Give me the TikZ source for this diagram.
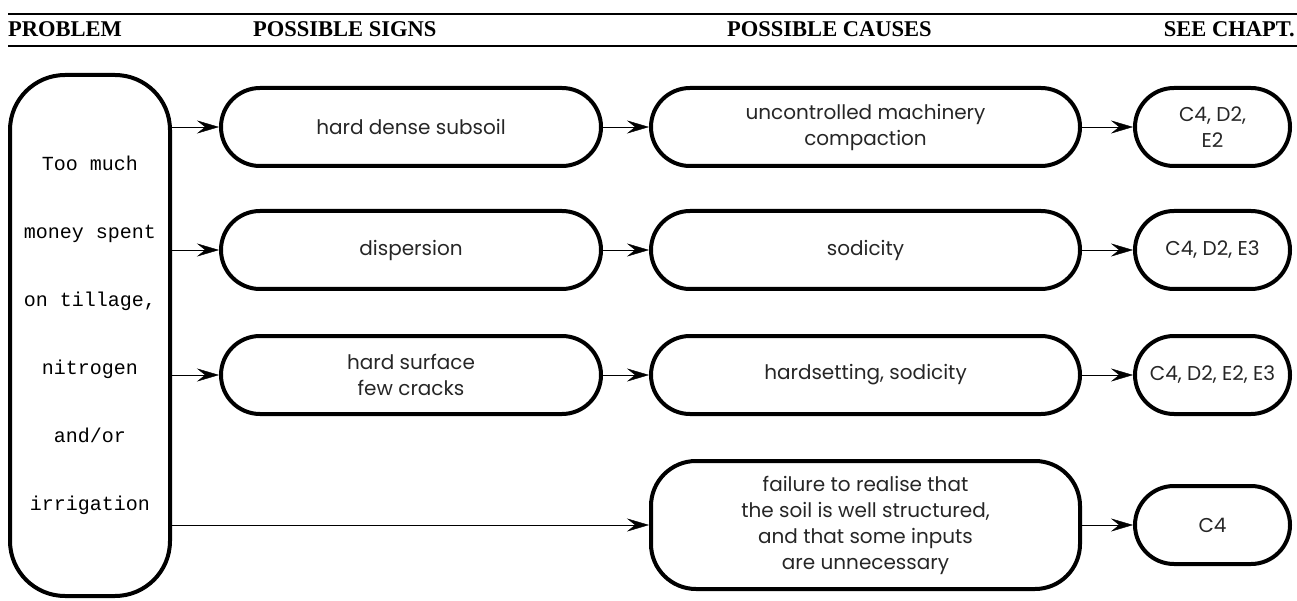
\documentclass[tikz,border=0pt]{standalone}
\usepackage{fontspec}
\usetikzlibrary{positioning, arrows.meta}
\newfontfamily\signfont{Poppins}
\newfontfamily\probfont{Liberation Mono}
\newfontfamily\headfont{Liberation Serif}
\tikzset{
	>={Stealth[length=22pt,width=13pt,inset=8pt]},
	->,
	x=1pt, y=-1pt,
	line width=2pt,
	box/.style={draw, -, line width=4pt, inner sep=0pt, align=center, text=black!85,
		font=\signfont\fontsize{20}{26}\selectfont},
	sign/.style={box, rounded corners=39pt, minimum width=380pt, minimum height=78pt},
	cause/.style={box, rounded corners=39pt, minimum width=429pt, minimum height=78pt},
	chapt/.style={box, rounded corners=39pt, minimum width=155pt, minimum height=78pt},
	head/.style={anchor=base west, inner sep=0pt, font=\headfont\bfseries\fontsize{22.5}{26}\selectfont}}

\begin{document}
\begin{tikzpicture}
		\useasboundingbox (0,0) rectangle (1297,601);

		% header
		\draw[-, line width=2.5pt] (8,14) -- (1297,14);
		\draw[-, line width=2.5pt] (8,46) -- (1297,46);
		\node[head] (hp) at (8,37) {PROBLEM};
		\node[head] (hs) at (253,37) {POSSIBLE SIGNS};
		\node[head] (hc) at (727,37) {POSSIBLE CAUSES};
		\node[head, anchor=base east] (hh) at (1295,37) {SEE CHAPT.};

		\node[box, rounded corners=55pt, minimum width=160pt, minimum height=521pt,
			font=\probfont\fontsize{20}{68}\selectfont, text=black] (prob) at (90,335.5)
			{Too much\\money spent\\on tillage,\\nitrogen\\and/or\\irrigation};

		\node[sign] (s1) at (411,127) {hard dense subsoil};
		\node[sign] (s2) at (411,250) {dispersion};
		\node[sign] (s3) at (411,375) {hard surface\\few cracks};

		\node[cause] (c1) at (865.5,127) {uncontrolled machinery\\compaction};
		\node[cause] (c2) at (865.5,250) {sodicity};
		\node[cause] (c3) at (865.5,375) {hardsetting, sodicity};
		\node[cause, rounded corners=45pt, minimum height=128pt] (c4) at (865.5,525)
			{failure to realise that\\the soil is well structured,\\and that some inputs\\are unnecessary};

		\node[chapt] (h1) at (1212.5,127) {C4, D2,\\E2};
		\node[chapt] (h2) at (1212.5,250) {C4, D2, E3};
		\node[chapt] (h3) at (1212.5,375) {C4, D2, E2, E3};
		\node[chapt] (h4) at (1212.5,525) {C4};

		\path
		(prob.east |- s1) edge (s1)
		(prob.east |- s2) edge (s2)
		(prob.east |- s3) edge (s3)
		(prob.east |- c4) edge (c4)
		(s1) edge (c1)
		(s2) edge (c2)
		(s3) edge (c3)
		(c1) edge (h1)
		(c2) edge (h2)
		(c3) edge (h3)
		(c4) edge (h4)
		;
	\end{tikzpicture}
\end{document}
